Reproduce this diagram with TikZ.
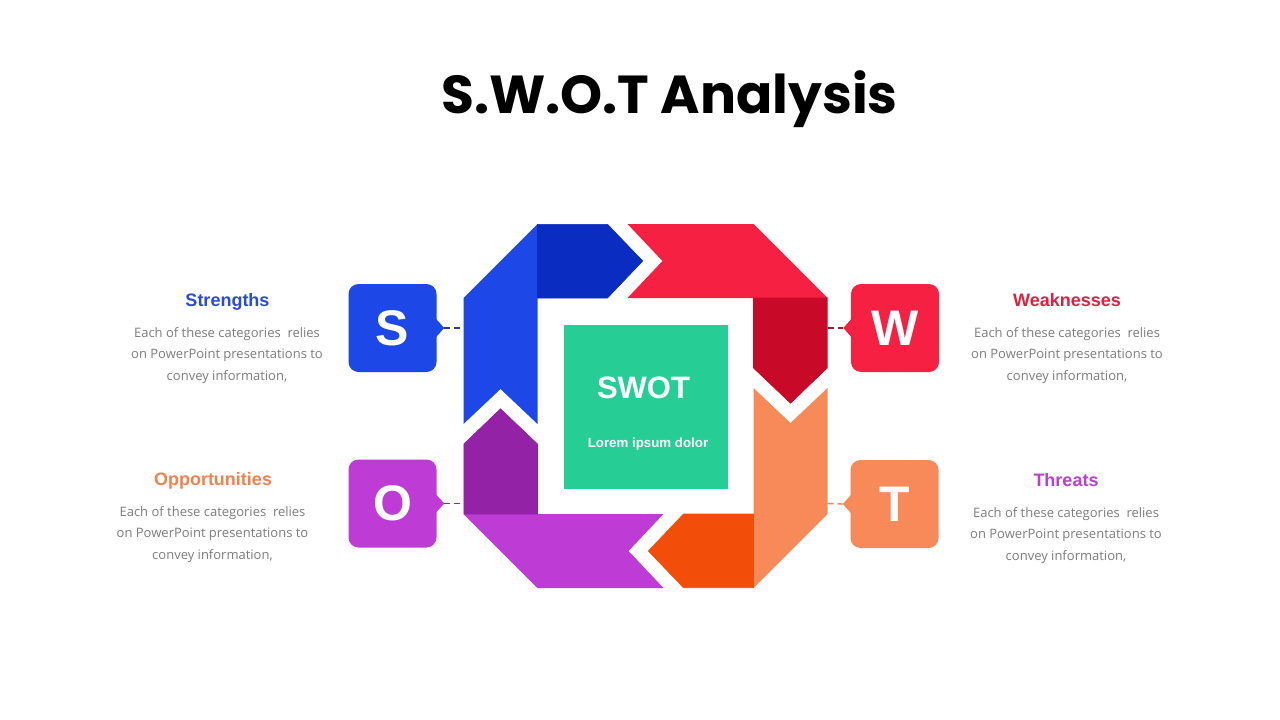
\documentclass[tikz,border=0pt]{standalone}
\usepackage{fontspec}
\setmainfont{Liberation Sans}
\newfontfamily\titlefont{Poppins}
\newfontfamily\bodyfont{Open Sans}
\usetikzlibrary{calc}
\definecolor{blueL}{HTML}{1E47E8}
\definecolor{blueD}{HTML}{0A2CC0}
\definecolor{redL}{HTML}{F52042}
\definecolor{redD}{HTML}{C80A28}
\definecolor{orangeL}{HTML}{F78A58}
\definecolor{orangeD}{HTML}{F24E0A}
\definecolor{purpleL}{HTML}{BF3BD5}
\definecolor{purpleD}{HTML}{9322A7}
\definecolor{swotgreen}{HTML}{26CE95}
\definecolor{sTitle}{HTML}{2A4BD4}
\definecolor{wTitle}{HTML}{E0203F}
\definecolor{oTitle}{HTML}{F08250}
\definecolor{tTitle}{HTML}{B543CC}
\definecolor{bodygray}{HTML}{7D7D7D}
\definecolor{sDash}{HTML}{2B3A9A}
\definecolor{wDash}{HTML}{9A1F30}
\definecolor{oDash}{HTML}{8A2A9A}
\definecolor{tDash}{HTML}{F08A5A}
\tikzset{
  letterbox/.style={rounded corners=10pt, minimum width=88pt, minimum height=88pt, inner sep=0pt, text=white, font=\fontsize{50}{50}\selectfont\bfseries},
  headtext/.style={anchor=base, font=\fontsize{18}{18}\selectfont\bfseries},
  bodytext/.style={anchor=base, text=bodygray, font=\bodyfont\fontsize{13}{13}\selectfont},
  dashlink/.style={line width=1.4pt, dash pattern=on 6pt off 4pt},
  darkpiece/.style={fill=#1, draw=#1, line width=0.6pt, line join=miter},
}
\begin{document}
\begin{tikzpicture}[x=1pt,y=-1pt]
\fill[white] (0,0) rectangle (1280,720);
\path[use as bounding box] (0,0) rectangle (1280,720);

% title
\node[anchor=base, font=\titlefont\fontsize{53.5}{53.5}\selectfont\bfseries] (title) at (669.5,113) {S.W.O.T Analysis};

% octagon pieces
\begin{scope}[shift={(645.5,406)}]
  \fill[blueL] (-182,-108) -- (-108,-182) -- (-108,18) -- (-145,-17) -- (-182,18) -- cycle;
  \fill[redL] (108,-182) -- (182,-108) -- (-18,-108) -- (17,-145) -- (-18,-182) -- cycle;
  \fill[orangeL] (182,108) -- (108,182) -- (108,-18) -- (145,17) -- (182,-18) -- cycle;
  \fill[purpleL] (-108,182) -- (-182,108) -- (18,108) -- (-17,145) -- (18,182) -- cycle;
  \path[darkpiece=blueD] (-108,-181.7) -- (-38,-181.7) -- (-2.8,-145) -- (-38,-108) -- (-108,-108) -- cycle;
  \path[darkpiece=redD] (181.7,-108) -- (181.7,-38) -- (145,-2.8) -- (108,-38) -- (108,-108) -- cycle;
  \path[darkpiece=orangeD] (108,181.7) -- (38,181.7) -- (2.8,145) -- (38,108) -- (108,108) -- cycle;
  \path[darkpiece=purpleD] (-181.7,108) -- (-181.7,38) -- (-145,2.8) -- (-108,38) -- (-108,108) -- cycle;
  \coordinate (Sedge) at (-182,-78);
  \coordinate (Wedge) at (182,-78);
  \coordinate (Oedge) at (-182,97.5);
  \coordinate (Tedge) at (182,97.5);
\end{scope}

% center box
\node[fill=swotgreen, minimum width=164pt, minimum height=164pt, inner sep=0pt] (center) at (646,407) {};
\node[anchor=base, text=white, font=\fontsize{31}{31}\selectfont\bfseries] (swot) at (643.5,398) {SWOT};
\node[anchor=base, text=white, font=\fontsize{13.3}{13.3}\selectfont\bfseries] (lorem) at (648,447) {Lorem ipsum dolor};

% letter boxes
\node[letterbox, fill=blueL] (S) at (392.5,328) {S};
\node[letterbox, fill=redL] (W) at (895,328) {W};
\node[letterbox, fill=purpleL] (O) at (392.5,503.5) {O};
\node[letterbox, fill=orangeL] (T) at (894.5,504) {T};

% pointers
\fill[blueL] ($(S.east)+(-1,-9.5)$) -- ($(S.east)+(7.5,0)$) coordinate (Stip) -- ($(S.east)+(-1,9.5)$) -- cycle;
\fill[redL] ($(W.west)+(1,-9.5)$) -- ($(W.west)+(-7.5,0)$) coordinate (Wtip) -- ($(W.west)+(1,9.5)$) -- cycle;
\fill[purpleL] ($(O.east)+(-1,-9.5)$) -- ($(O.east)+(7.5,0)$) coordinate (Otip) -- ($(O.east)+(-1,9.5)$) -- cycle;
\fill[orangeL] ($(T.west)+(1,-9.5)$) -- ($(T.west)+(-7.5,0)$) coordinate (Ttip) -- ($(T.west)+(1,9.5)$) -- cycle;

% dashed connectors
\draw[dashlink, sDash] (Stip) -- (Sedge);
\draw[dashlink, wDash] (Wedge) -- (Wtip);
\draw[dashlink, oDash] (Otip) -- (Oedge);
\draw[dashlink, tDash] (Tedge) -- (Ttip);

% side texts
\node[headtext, text=sTitle] (sh) at (227.5,306) {Strengths};
\node[bodytext] (sb1) at (227,337) {Each of these categories\ \ relies};
\node[bodytext] (sb2) at (227,358.5) {on PowerPoint presentations to};
\node[bodytext] (sb3) at (227,380) {convey information,};

\node[headtext, text=wTitle] (wh) at (1067,306) {Weaknesses};
\node[bodytext] (wb1) at (1067,337) {Each of these categories\ \ relies};
\node[bodytext] (wb2) at (1067,358.5) {on PowerPoint presentations to};
\node[bodytext] (wb3) at (1067,380) {convey information,};

\node[headtext, text=oTitle] (oh) at (213,485) {Opportunities};
\node[bodytext] (ob1) at (212.5,516) {Each of these categories\ \ relies};
\node[bodytext] (ob2) at (212.5,537.5) {on PowerPoint presentations to};
\node[bodytext] (ob3) at (212.5,559) {convey information,};

\node[headtext, text=tTitle] (th) at (1066,486) {Threats};
\node[bodytext] (tb1) at (1066,517) {Each of these categories\ \ relies};
\node[bodytext] (tb2) at (1066,538.5) {on PowerPoint presentations to};
\node[bodytext] (tb3) at (1066,560) {convey information,};
\end{tikzpicture}
\end{document}
